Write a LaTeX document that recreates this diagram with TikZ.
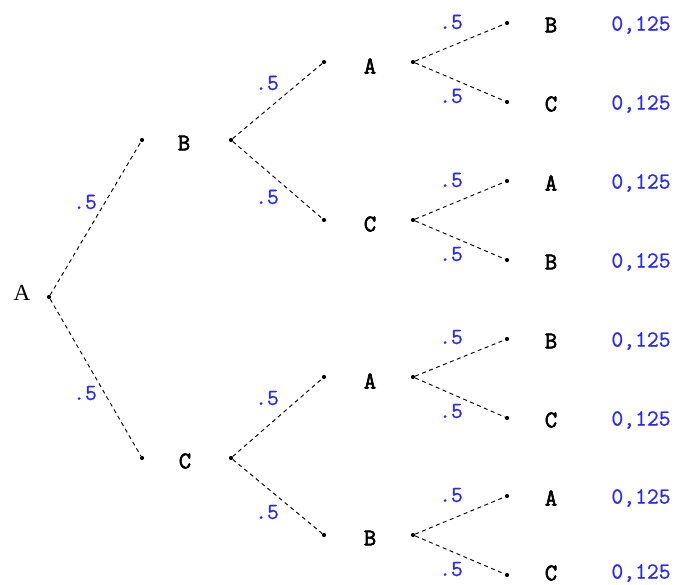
\documentclass[tikz,border=0pt]{standalone}
\usepackage{fontspec}
\setmainfont{Liberation Serif}
\newfontfamily\outcomefont{Latin Modern Mono}[FakeBold=2.5]
\newfontfamily\probfont{Latin Modern Mono}[FakeBold=0.8]
\definecolor{probblue}{RGB}{40,40,255}
\begin{document}
\begin{tikzpicture}[x=1pt,y=-1pt,
  dot/.style={circle,fill=black,inner sep=0pt,minimum size=4.2pt},
  branch/.style={draw=black,line width=0.95pt,dash pattern=on 4pt off 3.5pt},
  outcome/.style={inner sep=1pt,font=\outcomefont\fontsize{24}{24}\selectfont},
  prob/.style={text=probblue,font=\probfont\fontsize{23}{23}\selectfont},
  result/.style={inner sep=1pt,text=probblue,font=\probfont\fontsize{23}{23}\selectfont}]
\useasboundingbox (0,0) rectangle (676,585);

% root
\node[font=\fontsize{23}{23}\selectfont] (lr) at (22,293) {A};
\node[dot] (r) at (49,297) {};

% first level
\node[dot] (b1in) at (142,140) {};
\node[outcome] (lb1) at (184,143) {B};
\node[dot] (b1) at (231,140) {};
\node[dot] (c1in) at (142,458) {};
\node[outcome] (lc1) at (185,461) {C};
\node[dot] (c1) at (231,458) {};

% second level
\node[dot] (a2in) at (324,62) {};
\node[outcome] (la2) at (370,66) {A};
\node[dot] (a2) at (413,62) {};
\node[dot] (c2in) at (324,220) {};
\node[outcome] (lc2) at (370,224) {C};
\node[dot] (c2) at (413,220) {};
\node[dot] (a3in) at (324,377) {};
\node[outcome] (la3) at (370,381) {A};
\node[dot] (a3) at (413,377) {};
\node[dot] (b3in) at (324,535) {};
\node[outcome] (lb3) at (370,538) {B};
\node[dot] (b3) at (413,535) {};

% leaves
\foreach \i/\y in {1/23,2/102,3/181,4/260,5/339,6/418,7/496,8/575}{
  \node[dot] (f\i) at (507,\y) {};
}
\foreach \i/\t/\l in {1/25/B,2/104/C,3/183/A,4/262/B,5/341/B,6/420/C,7/498/A,8/573/C}{
  \node[outcome] (lf\i) at (551,\t) {\l};
  \node[result] (pf\i) at (641,\t) {0,125};
}

% branches
\draw[branch] (r) -- (b1in);
\draw[branch] (r) -- (c1in);
\draw[branch] (b1) -- (a2in);
\draw[branch] (b1) -- (c2in);
\draw[branch] (c1) -- (a3in);
\draw[branch] (c1) -- (b3in);
\draw[branch] (a2) -- (f1);
\draw[branch] (a2) -- (f2);
\draw[branch] (c2) -- (f3);
\draw[branch] (c2) -- (f4);
\draw[branch] (a3) -- (f5);
\draw[branch] (a3) -- (f6);
\draw[branch] (b3) -- (f7);
\draw[branch] (b3) -- (f8);

% branch probabilities
\node[prob] (p1) at (85,202) {.5};
\node[prob] (p2) at (85,393) {.5};
\node[prob] (p3) at (267,83) {.5};
\node[prob] (p4) at (267,197) {.5};
\node[prob] (p5) at (267,398) {.5};
\node[prob] (p6) at (267,512) {.5};
\foreach \j/\y in {1/62,2/220,3/377,4/535}{
  \node[prob] (q\j u) at (451,\y-40) {.5};
  \node[prob] (q\j d) at (451,\y+34) {.5};
}
\end{tikzpicture}
\end{document}
